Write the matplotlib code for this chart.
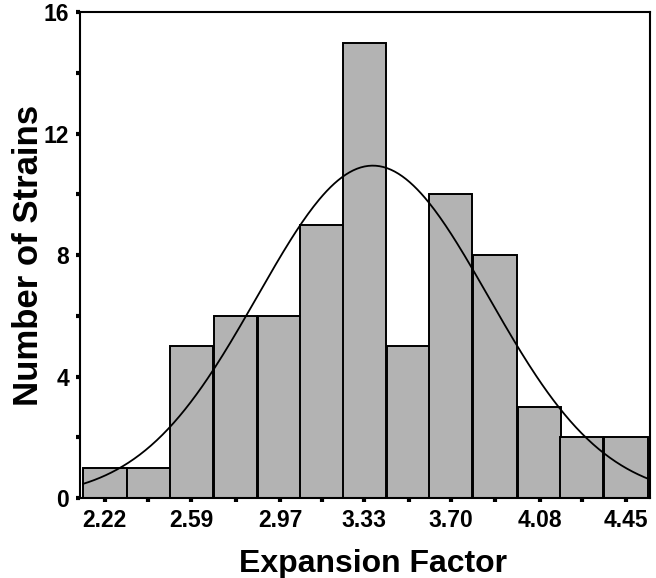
import numpy as np
import matplotlib.pyplot as plt

plt.rcParams['font.family'] = ['Liberation Sans', 'DejaVu Sans']

# histogram counts per bin (bin centres)
centers = [2.22, 2.406, 2.59, 2.78, 2.97, 3.15, 3.33, 3.52, 3.70, 3.89, 4.08, 4.26, 4.45]
counts = [1, 1, 5, 6, 6, 9, 15, 5, 10, 8, 3, 2, 2]
tick_labels = ["2.22", "2.59", "2.97", "3.33", "3.70", "4.08", "4.45"]

width = (4.45 - 2.22) / 12
c = np.array(centers)
n = np.array(counts)

# normal curve fitted to the binned data
mean = (c * n).sum() / n.sum()
sd = np.sqrt((n * (c - mean) ** 2).sum() / (n.sum() - 1))
xs = np.linspace(c[0] - width / 2, c[-1] + width / 2, 300)
ys = n.sum() * width / (sd * np.sqrt(2 * np.pi)) * np.exp(-0.5 * ((xs - mean) / sd) ** 2)

fig = plt.figure(figsize=(6.56, 5.78), dpi=100)
ax = fig.add_axes([0.122, 0.138, 0.869, 0.841])

ax.bar(c, n, width=width, color='#b3b3b3', edgecolor='black', linewidth=1.4)
ax.plot(xs, ys, color='black', lw=1.3)

ax.set_xlim(c[0] - width / 2 - 0.013, c[-1] + width / 2 + 0.01)
ax.set_ylim(0, 16)

ax.set_xticks(c)
ax.set_xticklabels([tick_labels[i // 2] if i % 2 == 0 else "" for i in range(len(c))])
ax.set_yticks([0, 4, 8, 12, 16])
ax.set_yticks([2, 6, 10, 14], minor=True)

ax.tick_params(axis='both', which='both', direction='out', length=3, width=3, color='black')
ax.tick_params(axis='both', labelsize=16.5, pad=5)
for lab in ax.get_xticklabels() + ax.get_yticklabels():
    lab.set_fontweight('bold')

for s in ax.spines.values():
    s.set_linewidth(1.5)

ax.set_xlabel("Expansion Factor", fontsize=23, fontweight='bold', labelpad=12, x=0.514)
ax.set_ylabel("Number of Strains", fontsize=25, fontweight='bold', labelpad=-1)

fig.savefig("out.png", dpi=100)
